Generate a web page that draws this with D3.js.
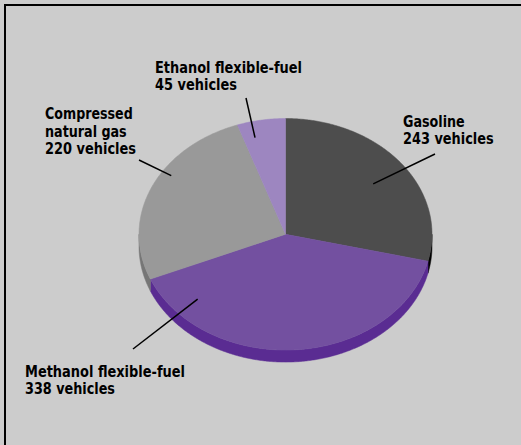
<!DOCTYPE html>
<html>
<head>
<meta charset="utf-8">
<script src="https://cdn.jsdelivr.net/npm/d3@7"></script>
<style>
  html, body { margin: 0; padding: 0; background: #cccccc; overflow: hidden; }
  svg { display: block; }
</style>
</head>
<body>
<svg id="chart" width="521" height="445"></svg>
<script>
// Alternative-fuel fleet: number of vehicles by fuel type
const categories = ["Gasoline", "Methanol flexible-fuel", "Compressed natural gas", "Ethanol flexible-fuel"];
const vehicles = [243, 338, 220, 45];
const labelLines = [
  ["Gasoline", "243 vehicles"],
  ["Methanol flexible-fuel", "338 vehicles"],
  ["Compressed", "natural gas", "220 vehicles"],
  ["Ethanol flexible-fuel", "45 vehicles"]
];

// Colours of the top faces and of the rim
const topColors = ["#4d4d4d", "#7350a0", "#999999", "#9d86c0"];
const sideColors = ["#000000", "#5a2c92", "#767676", "#7c62a2"];

// Label placement: text origin, line widths, leader line start and the
// point inside the slice it points to (clock angle in degrees, radius fraction)
const labelLayout = [
  { x: 403, y: 126.7, widths: [61.7, 90.7], from: [435, 154], toAngle: 54, toR: 0.74 },
  { x: 25, y: 376.7, widths: [160, 90], from: [133, 349], toAngle: 227, toR: 0.82 },
  { x: 45, y: 119, widths: [87.7, 81.7, 91], from: [139, 160], toAngle: 303, toR: 0.93 },
  { x: 155, y: 72.7, widths: [147, 82], from: [246, 98], toAngle: 346, toR: 0.86 }
];

const W = 521, H = 445;
const cx = 285.5, cy = 234.3, rx = 146.5, ry = 115.8, depth = 12;
const lineGap = 17.5;

const svg = d3.select("#chart");

// Panel background and its frame
svg.append("rect").attr("x", 0).attr("y", 0).attr("width", W).attr("height", H).attr("fill", "#cccccc");
svg.append("rect")
  .attr("x", 5).attr("y", 5).attr("width", W + 20).attr("height", H + 20)
  .attr("fill", "none").attr("stroke", "#000").attr("stroke-width", 2);

const pie = d3.pie().sort(null).value(d => d)(vehicles);
const color = d3.scaleOrdinal().domain(categories).range(topColors);
const sideColor = d3.scaleOrdinal().domain(categories).range(sideColors);

// Projection of a clock angle (radians, 0 = top, clockwise) onto the tilted disc
const px = (a, f = 1) => cx + rx * f * Math.sin(a);
const py = (a, f = 1) => cy - ry * f * Math.cos(a);

function arcPoints(a0, a1, dy = 0) {
  const n = Math.max(2, Math.ceil(Math.abs(a1 - a0) / (Math.PI / 360)));
  const pts = [];
  for (let i = 0; i <= n; i++) {
    const a = a0 + (a1 - a0) * i / n;
    pts.push([px(a), py(a) + dy]);
  }
  return pts;
}

const line = d3.line();

// Rim: only the front half of the disc (from 3 o'clock to 9 o'clock) is visible
const front0 = Math.PI / 2, front1 = 3 * Math.PI / 2;
const rim = svg.append("g");
pie.forEach((s, i) => {
  const a0 = Math.max(s.startAngle, front0);
  const a1 = Math.min(s.endAngle, front1);
  if (a1 <= a0) return;
  const pts = arcPoints(a0, a1).concat(arcPoints(a1, a0, depth));
  rim.append("path")
    .attr("d", line(pts) + "Z")
    .attr("fill", sideColor(categories[i]))
    .attr("stroke", sideColor(categories[i]))
    .attr("stroke-width", 0.5);
});

// Top faces of the slices
const tops = svg.append("g");
pie.forEach((s, i) => {
  const pts = [[cx, cy]].concat(arcPoints(s.startAngle, s.endAngle));
  tops.append("path")
    .attr("d", line(pts) + "Z")
    .attr("fill", color(categories[i]))
    .attr("stroke", color(categories[i]))
    .attr("stroke-width", 0.5)
    .attr("stroke-linejoin", "round");
});

// Leader lines
const leaders = svg.append("g").attr("stroke", "#000").attr("stroke-width", 1.5);
labelLayout.forEach(l => {
  const a = l.toAngle * Math.PI / 180;
  leaders.append("line")
    .attr("x1", l.from[0]).attr("y1", l.from[1])
    .attr("x2", px(a, l.toR)).attr("y2", py(a, l.toR));
});

// Labels
const labels = svg.append("g")
  .attr("font-family", "'Liberation Sans Narrow', 'Arial Narrow', 'DejaVu Sans Condensed', 'Liberation Sans', sans-serif")
  .attr("font-weight", "bold")
  .attr("font-size", 16.5)
  .attr("fill", "#000");
labelLines.forEach((lines, i) => {
  const l = labelLayout[i];
  lines.forEach((t, j) => {
    labels.append("text")
      .attr("x", l.x)
      .attr("y", l.y + j * lineGap)
      .attr("textLength", l.widths[j])
      .attr("lengthAdjust", "spacingAndGlyphs")
      .text(t);
  });
});
</script>
</body>
</html>
